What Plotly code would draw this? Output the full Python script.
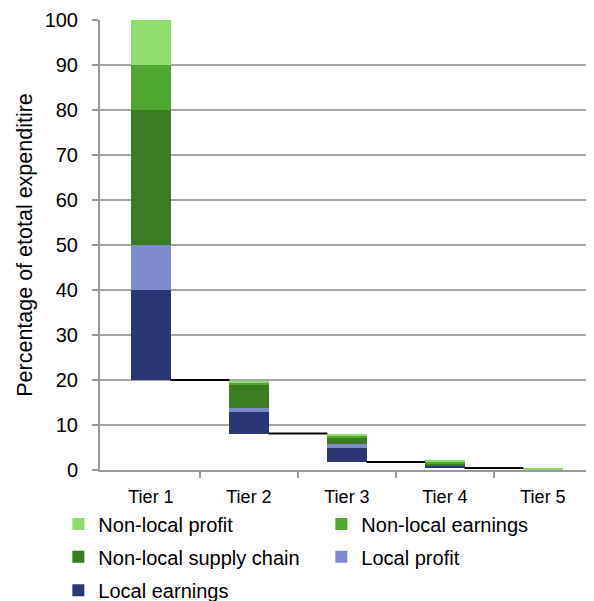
import plotly.graph_objects as go

tiers = ["Tier 1", "Tier 2", "Tier 3", "Tier 4", "Tier 5"]
base = [20, 8.1, 1.8, 0.45, 0]
local_earnings = [20, 4.7, 3.05, 0.5, 0.05]
local_profit = [10, 0.9, 0.95, 0.15, 0.02]
nonlocal_supply_chain = [30, 5.2, 1.5, 0.4, 0.05]
nonlocal_earnings = [10, 0.6, 0.35, 0.4, 0.08]
nonlocal_profit = [10, 0.3, 0.35, 0.3, 0.3]
y_ticks = [0, 10, 20, 30, 40, 50, 60, 70, 80, 90, 100]

FONT = "Liberation Sans, Arial, sans-serif"
xpos = list(range(len(tiers)))
BW = 0.4

series = [
    ("Local earnings", local_earnings, "#2B3674", "legend3"),
    ("Local profit", local_profit, "#7F8ACF", "legend2"),
    ("Non-local supply chain", nonlocal_supply_chain, "#3A7C21", "legend2"),
    ("Non-local earnings", nonlocal_earnings, "#4EA72E", "legend"),
    ("Non-local profit", nonlocal_profit, "#8EDD6E", "legend"),
]

fig = go.Figure()
fig.add_trace(go.Bar(x=xpos, y=base, width=BW, marker=dict(color="rgba(0,0,0,0)", line=dict(width=0)),
                     showlegend=False, hoverinfo="skip"))
for name, vals, col, lg in series:
    fig.add_trace(go.Bar(x=xpos, y=vals, width=BW, name=name, legend=lg,
                         marker=dict(color=col, line=dict(width=0))))

# connectors from base of tier i to next tier
cx, cy = [], []
for i in range(len(tiers) - 1):
    cx += [xpos[i] + BW / 2, xpos[i + 1] - BW / 2, None]
    cy += [base[i], base[i], None]
fig.add_trace(go.Scatter(x=cx, y=cy, mode="lines", line=dict(color="black", width=2),
                         showlegend=False, hoverinfo="skip", cliponaxis=False))

leg_common = dict(orientation="h", xanchor="left", yanchor="middle", x=-0.085,
                  font=dict(family=FONT, size=20, color="#000"), entrywidth=218,
                  entrywidthmode="pixels", traceorder="reversed", bgcolor="rgba(0,0,0,0)",
                  itemclick=False)

fig.update_layout(
    width=586, height=593,
    margin=dict(l=92, r=4, t=12, b=131, autoexpand=False),
    paper_bgcolor="white", plot_bgcolor="white",
    barmode="stack", bargap=0,
    font=dict(family=FONT, size=19, color="#000"),
    legend=dict(leg_common, y=-0.12),
    legend2=dict(leg_common, y=-0.193),
    legend3=dict(leg_common, y=-0.267),
    xaxis=dict(range=[-0.52, 4.48], tickvals=xpos, ticktext=tiers, ticks="",
               showline=True, linecolor="#999999", linewidth=2, showgrid=False, zeroline=False,
               tickfont=dict(size=18), ticklabelstandoff=9,
               minor=dict(tickvals=[0.5, 1.5, 2.5, 3.5], ticks="outside", ticklen=6,
                          tickcolor="#999999", tickwidth=2, showgrid=False)),
    yaxis=dict(range=[0, 100], tickvals=y_ticks, ticks="outside", ticklen=6, tickcolor="#999999",
               tickwidth=2, showline=True, linecolor="#999999", linewidth=2,
               showgrid=True, gridcolor="#a6a6a6", gridwidth=2, zeroline=False,
               tickfont=dict(size=20), ticklabelstandoff=10,
               title=dict(text="Percentage of etotal expenditire", font=dict(size=21.5), standoff=6)),
)

fig.write_html("out.html")
